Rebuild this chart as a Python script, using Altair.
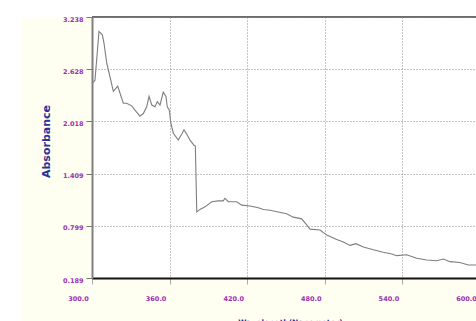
import altair as alt
import pandas as pd

# Absorbance spectrum, 300-597 nm
wavelength = [
    300.0, 302.3, 305.4, 308.0, 309.3, 311.4, 313.9, 316.5, 319.9, 321.6,
    324.2, 326.8, 330.7, 333.2, 337.1, 339.7, 342.3, 344.1, 346.2, 348.7,
    350.5, 352.6, 355.1, 357.2, 358.2, 359.8, 360.9, 362.9, 366.7, 369.4,
    371.1, 373.2, 375.8, 378.9, 379.9, 381.0, 383.5, 387.4, 392.6, 397.7,
    401.5, 402.8, 405.4, 411.9, 415.7, 422.2, 428.6, 432.5, 437.6, 444.0,
    450.5, 455.6, 462.1, 466.0, 468.6, 476.3, 481.5, 489.2, 494.3, 499.5,
    504.1, 509.8, 517.5, 525.2, 531.7, 535.6, 543.3, 551.1, 558.8, 566.5,
    571.6, 576.8, 584.5, 591.0, 596.9,
]
absorbance = [
    2.46, 2.50, 3.07, 3.03, 2.93, 2.70, 2.54, 2.37, 2.43, 2.35,
    2.23, 2.23, 2.20, 2.15, 2.08, 2.11, 2.19, 2.31, 2.21, 2.19,
    2.25, 2.21, 2.36, 2.31, 2.19, 2.15, 2.00, 1.88, 1.80, 1.87,
    1.92, 1.87, 1.80, 1.74, 1.73, 0.96, 0.99, 1.02, 1.08, 1.09,
    1.09, 1.12, 1.08, 1.08, 1.04, 1.03, 1.01, 0.99, 0.98, 0.96,
    0.94, 0.90, 0.88, 0.81, 0.76, 0.75, 0.69, 0.64, 0.61, 0.57,
    0.59, 0.55, 0.52, 0.49, 0.47, 0.45, 0.46, 0.42, 0.40, 0.39,
    0.41, 0.38, 0.37, 0.34, 0.34,
]

x_ticks = [300, 360, 420, 480, 540, 600]
y_ticks = [0.189, 0.799, 1.409, 2.018, 2.628, 3.238]

spectrum = pd.DataFrame({"Wavelength": wavelength, "Absorbance": absorbance})

W, H = 384, 261
LABEL_COLOR = "#9C2FB0"
TITLE_COLOR = "#2A3198"
PANEL_COLOR = "#FEFEF1"
GRID_COLOR = "#8a8a8a"
FONT = "DejaVu Sans"

x_scale = alt.Scale(domain=[300, 600], range=[0, 388], nice=False, zero=False)
y_scale = alt.Scale(domain=[y_ticks[0], y_ticks[-1]], nice=False, zero=False)

x_axis = alt.Axis(
    values=x_ticks, format=".1f", title="Wavelength(Nanometer)",
    labelFont=FONT, labelFontSize=6.5, labelFontWeight="bold", labelColor=LABEL_COLOR,
    labelOffset=-14, labelPadding=14, labelBaseline="middle",
    labelFlush=False, labelOverlap=False,
    tickSize=6, tickColor="#aaaaaa", tickWidth=1,
    domainColor="#111111", domainWidth=2,
    grid=True, gridColor=GRID_COLOR, gridDash=[1, 2], gridWidth=1,
    titleFont=FONT, titleFontSize=7.5, titleFontWeight="bold", titleColor=TITLE_COLOR,
    titleX=198, titleY=40, titleAlign="center", titleBaseline="top",
    zindex=1,
)
y_axis = alt.Axis(
    values=y_ticks, format=".3f", title="Absorbance",
    labelFont=FONT, labelFontSize=6.5, labelFontWeight="bold", labelColor=LABEL_COLOR,
    labelOffset=2, labelPadding=3, labelOverlap=False, labelFlush=False,
    tickSize=6, tickColor="#777777", tickWidth=1,
    domainColor="#808080", domainWidth=2,
    grid=True, gridColor=GRID_COLOR, gridDash=[1, 2], gridWidth=1,
    titleFont=FONT, titleFontSize=11, titleFontWeight="bold", titleColor=TITLE_COLOR,
    titleX=-46, titleY=124, titleAngle=-90, titleAlign="center", titleBaseline="middle",
    zindex=1,
)

# cream panels around the plot area
panel = alt.Chart(pd.DataFrame({"p": [0]})).mark_rect(color=PANEL_COLOR, clip=False)
left_panel = panel.encode(x=alt.value(-71), x2=alt.value(0), y=alt.value(0), y2=alt.value(H + 60))
bottom_panel = panel.encode(x=alt.value(0), x2=alt.value(W), y=alt.value(H), y2=alt.value(H + 60))

line = alt.Chart(spectrum).mark_line(color="#7e7e7e", strokeWidth=1.1, clip=True).encode(
    x=alt.X("Wavelength:Q", scale=x_scale, axis=x_axis),
    y=alt.Y("Absorbance:Q", scale=y_scale, axis=y_axis),
)

top_border = alt.Chart(pd.DataFrame({"top": [y_ticks[-1]]})).mark_rule(
    color="#3c3c3c", strokeWidth=1.5
).encode(y=alt.Y("top:Q", scale=y_scale))

chart = (
    alt.layer(left_panel, bottom_panel, line, top_border)
    .properties(
        width=W, height=H,
        padding={"left": 92, "top": 17, "right": 0, "bottom": 43},
        autosize=alt.AutoSizeParams(type="none"),
        background="white",
    )
    .configure_view(stroke=None, fill="white")
)

chart.save("out.html", embed_options={"renderer": "svg", "actions": False})
